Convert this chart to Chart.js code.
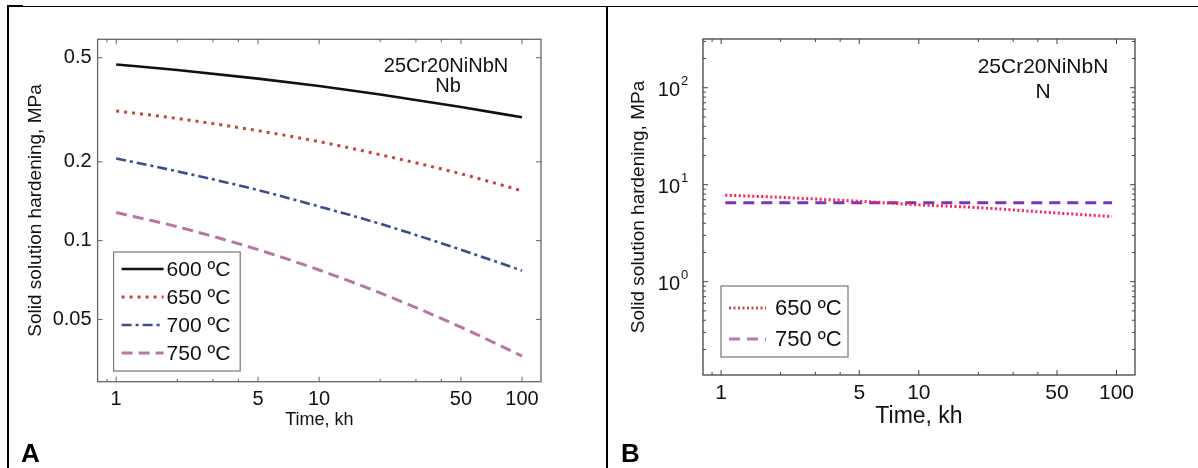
<!DOCTYPE html>
<html>
<head>
<meta charset="utf-8">
<title>Solid solution hardening</title>
<script src="https://cdn.jsdelivr.net/npm/chart.js"></script>
<style>
    html, body { margin: 0; padding: 0; background: #fff; }
    body { position: relative; width: 1198px; height: 468px; overflow: hidden; }
    canvas { position: absolute; top: 0; }
    #chartA { left: 0; }
    #chartB { left: 600px; }
    .rule { position: absolute; background: #000; z-index: 2; }
    .panel-tag { position: absolute; top: 440px; font: bold 26px "Liberation Sans", Arial, sans-serif; line-height: 1; color: #000; z-index: 2; }
</style>
</head>
<body>
<!-- table borders of the figure -->
<div class="rule" style="left:7px; top:5px; width:16px; height:2px;"></div>
<div class="rule" style="left:7px; top:6px; width:1191px; height:1px;"></div>
<div class="rule" style="left:7px; top:6px; width:2px; height:462px;"></div>
<div class="rule" style="left:606px; top:6px; width:2px; height:462px;"></div>
<div class="panel-tag" style="left:21px;">A</div>
<div class="panel-tag" style="left:621px;">B</div>

<canvas id="chartA" width="600" height="468"></canvas>
<canvas id="chartB" width="598" height="468"></canvas>

<script>
// ---- data ----
const timeA = [1, 2, 5, 10, 20, 50, 100];
const hard600 = [0.471, 0.449, 0.416, 0.390, 0.362, 0.324, 0.296];
const hard650 = [0.313, 0.293, 0.263, 0.239, 0.213, 0.180, 0.155];
const hard700 = [0.206, 0.184, 0.156, 0.135, 0.116, 0.0923, 0.0768];
const hard750 = [0.128, 0.113, 0.0924, 0.0772, 0.0631, 0.0467, 0.0362];
const labelsA = ['600 ºC', '650 ºC', '700 ºC', '750 ºC'];

const timeB = [1.05, 2, 5, 10, 20, 50, 95];
const hardN650 = [7.8, 7.4, 6.75, 6.2, 5.8, 5.1, 4.7];
const hardN750 = [6.5, 6.5, 6.5, 6.5, 6.5, 6.5, 6.5];
const labelsB = ['650 ºC', '750 ºC'];

// tick values
const xTickLabels = [1, 5, 10, 50, 100];
const xMinorTicks = [0.9, 2, 3, 4, 20, 30, 40];
const yTicksA = [0.05, 0.1, 0.2, 0.5];
const yTicksB = [1, 10, 100];
const yExpB = ['0', '1', '2'];
const yMinorB = [0.2, 0.3, 0.4, 0.5, 0.6, 0.7, 0.8, 0.9,
                 2, 3, 4, 5, 6, 7, 8, 9,
                 20, 30, 40, 50, 60, 70, 80, 90,
                 200, 300];

const FONT = '"Liberation Sans", Arial, Helvetica, sans-serif';

function toPoints(xs, ys) {
    return xs.map((x, i) => ({ x: x, y: ys[i] }));
}

// MATLAB-like box, inward ticks, legend box and the alloy note
const matlabFrame = {
    id: 'matlabFrame',
    afterDatasetsDraw(chart, args, opts) {
        const { ctx, chartArea: ca } = chart;
        const xs = chart.scales.x, ys = chart.scales.y;
        ctx.save();

        // box
        ctx.strokeStyle = opts.frameColor;
        ctx.lineWidth = 1.3;
        ctx.strokeRect(ca.left, ca.top, ca.right - ca.left, ca.bottom - ca.top);

        // ticks pointing inside, on all four sides
        const tickX = (v, len) => {
            const p = xs.getPixelForValue(v);
            if (p < ca.left || p > ca.right) return;
            ctx.beginPath();
            ctx.moveTo(p, ca.bottom); ctx.lineTo(p, ca.bottom - len);
            ctx.moveTo(p, ca.top); ctx.lineTo(p, ca.top + len);
            ctx.stroke();
        };
        const tickY = (v, len) => {
            const p = ys.getPixelForValue(v);
            if (p < ca.top || p > ca.bottom) return;
            ctx.beginPath();
            ctx.moveTo(ca.left, p); ctx.lineTo(ca.left + len, p);
            ctx.moveTo(ca.right, p); ctx.lineTo(ca.right - len, p);
            ctx.stroke();
        };
        ctx.lineWidth = 1;
        xTickLabels.forEach(v => tickX(v, 5));
        xMinorTicks.forEach(v => tickX(v, 3));
        opts.yMajor.forEach(v => tickY(v, 5));
        (opts.yMinor || []).forEach(v => tickY(v, 3));

        // power-of-ten labels (panel B)
        if (opts.expLabels) {
            ctx.fillStyle = '#111';
            opts.yMajor.forEach((v, i) => {
                const p = ys.getPixelForValue(v);
                ctx.font = '20px ' + FONT;
                ctx.textAlign = 'right';
                ctx.textBaseline = 'middle';
                ctx.fillText('10', ca.left - 23, p + 3);
                ctx.font = '13px ' + FONT;
                ctx.textAlign = 'left';
                ctx.fillText(opts.expLabels[i], ca.left - 22, p - 6);
            });
        }

        // alloy note
        ctx.fillStyle = '#111';
        ctx.textAlign = 'center';
        ctx.textBaseline = 'alphabetic';
        opts.notes.forEach(n => {
            ctx.font = n.size + 'px ' + FONT;
            ctx.fillText(n.text, ca.right - n.dx, ca.top + n.dy);
        });

        // legend
        const lg = opts.legend;
        const bx = ca.left + lg.dx;
        const by = ca.bottom - lg.dy - lg.h;
        ctx.fillStyle = '#fff';
        ctx.fillRect(bx, by, lg.w, lg.h);
        ctx.strokeStyle = '#777';
        ctx.lineWidth = 1.2;
        ctx.strokeRect(bx, by, lg.w, lg.h);
        chart.data.datasets.forEach((ds, i) => {
            const cy = by + lg.first + i * lg.step;
            ctx.save();
            ctx.strokeStyle = ds.legendColor || ds.borderColor;
            ctx.lineWidth = ds.borderWidth;
            ctx.setLineDash(ds.borderDash || []);
            ctx.beginPath();
            ctx.moveTo(bx + lg.s0, cy);
            ctx.lineTo(bx + lg.s1, cy);
            ctx.stroke();
            ctx.restore();
            ctx.fillStyle = '#111';
            ctx.font = lg.size + 'px ' + FONT;
            ctx.textAlign = 'left';
            ctx.textBaseline = 'middle';
            ctx.fillText(ds.label, bx + lg.tx, cy + 1);
        });

        ctx.restore();
    }
};

function makeScales(p) {
    return {
        x: {
            type: 'logarithmic',
            min: 0.81,
            max: 124,
            afterBuildTicks: s => { s.ticks = xTickLabels.map(v => ({ value: v })); },
            afterFit: s => { s.height = p.xHeight; },
            grid: { display: false, drawTicks: false },
            border: { display: false },
            ticks: {
                autoSkip: false,
                maxRotation: 0,
                padding: p.xPad,
                color: '#111',
                font: { family: FONT, size: p.xTickSize },
                callback: v => String(v)
            },
            title: {
                display: true,
                text: 'Time, kh',
                color: '#111',
                padding: { top: 4, bottom: 4 },
                font: { family: FONT, size: p.xTitleSize }
            }
        },
        y: {
            type: 'logarithmic',
            min: p.yMin,
            max: p.yMax,
            afterBuildTicks: s => { s.ticks = p.yTicks.map(v => ({ value: v })); },
            afterFit: s => { s.width = p.yWidth; },
            grid: { display: false, drawTicks: false },
            border: { display: false },
            ticks: {
                display: p.showYTicks,
                autoSkip: false,
                padding: 6,
                color: '#111',
                font: { family: FONT, size: 20 },
                callback: v => String(v)
            },
            title: {
                display: true,
                text: 'Solid solution hardening, MPa',
                color: '#111',
                padding: { top: 4, bottom: 4 },
                font: { family: FONT, size: 19 }
            }
        }
    };
}

function lineSet(label, xs, ys, color, width, dash, extra) {
    return Object.assign({
        label: label,
        data: toPoints(xs, ys),
        borderColor: color,
        borderWidth: width,
        borderDash: dash,
        borderCapStyle: 'butt',
        pointRadius: 0,
        fill: false,
        cubicInterpolationMode: 'monotone'
    }, extra || {});
}

// panel A: Nb
new Chart(document.getElementById('chartA'), {
    type: 'line',
    data: {
        datasets: [
            lineSet(labelsA[0], timeA, hard600, '#111111', 2.6, []),
            lineSet(labelsA[1], timeA, hard650, '#c8423c', 3, [3, 5]),
            lineSet(labelsA[2], timeA, hard700, '#3c4e8a', 2.6, [10, 4, 3, 4]),
            lineSet(labelsA[3], timeA, hard750, '#b578a6', 3, [11, 6])
        ]
    },
    options: {
        responsive: false,
        animation: false,
        layout: { padding: { left: 20, top: 39.3, right: 59, bottom: 33.2 } },
        scales: makeScales({
            xHeight: 53.1, xPad: 6, xTickSize: 20, xTitleSize: 18,
            yMin: 0.0289, yMax: 0.588, yTicks: yTicksA, yWidth: 77.6, showYTicks: true
        }),
        plugins: {
            legend: { display: false },
            tooltip: { enabled: false },
            matlabFrame: {
                frameColor: '#666',
                yMajor: yTicksA,
                notes: [
                    { text: '25Cr20NiNbN', size: 20, dx: 95, dy: 32.7 },
                    { text: 'Nb', size: 20, dx: 93, dy: 52.7 }
                ],
                legend: { dx: 16, dy: 10.7, w: 126.6, h: 119, first: 17, step: 28,
                          s0: 8, s1: 50, tx: 53, size: 21 }
            }
        }
    },
    plugins: [matlabFrame]
});

// panel B: N
new Chart(document.getElementById('chartB'), {
    type: 'line',
    data: {
        datasets: [
            lineSet(labelsB[0], timeB, hardN650, '#ff1f55', 3, [2, 2.5], { legendColor: '#c0504d' }),
            lineSet(labelsB[1], timeB, hardN750, '#7a36b6', 3, [11, 7], { legendColor: '#b07fb0' })
        ]
    },
    options: {
        responsive: false,
        animation: false,
        layout: { padding: { left: 23.6, top: 39, right: 63, bottom: 33.2 } },
        scales: makeScales({
            xHeight: 59.8, xPad: 6, xTickSize: 21, xTitleSize: 23,
            yMin: 0.109, yMax: 318, yTicks: yTicksB, yWidth: 79.4, showYTicks: false
        }),
        plugins: {
            legend: { display: false },
            tooltip: { enabled: false },
            matlabFrame: {
                frameColor: '#444',
                yMajor: yTicksB,
                yMinor: yMinorB,
                expLabels: yExpB,
                notes: [
                    { text: '25Cr20NiNbN', size: 21, dx: 92, dy: 34 },
                    { text: 'N', size: 21, dx: 92, dy: 59 }
                ],
                legend: { dx: 18, dy: 18, w: 127, h: 71, first: 22, step: 31,
                          s0: 8, s1: 45, tx: 54, size: 22 }
            }
        }
    },
    plugins: [matlabFrame]
});
</script>
</body>
</html>
